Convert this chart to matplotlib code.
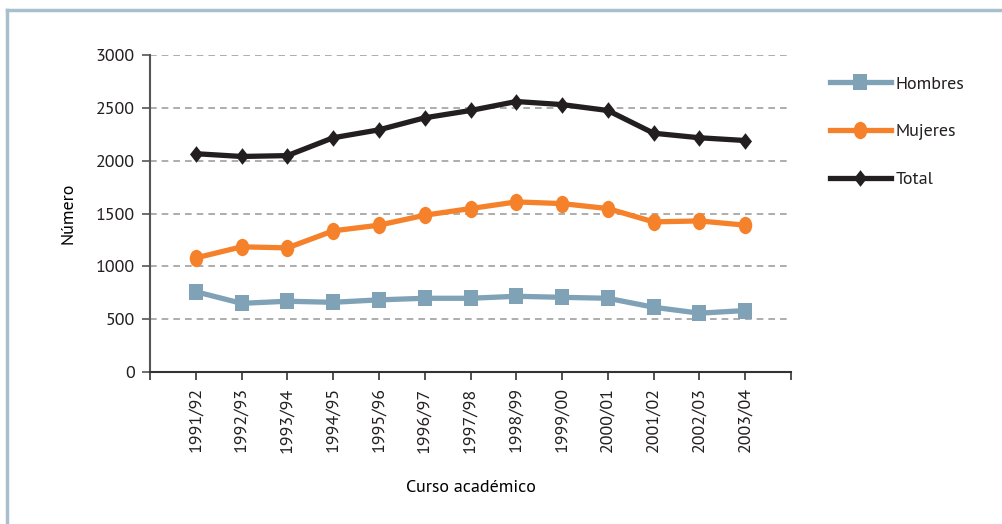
import matplotlib
matplotlib.use('Agg')
import matplotlib.pyplot as plt
from matplotlib.lines import Line2D
from matplotlib.path import Path

cursos = ['1991/92', '1992/93', '1993/94', '1994/95', '1995/96', '1996/97', '1997/98',
          '1998/99', '1999/00', '2000/01', '2001/02', '2002/03', '2003/04']
hombres = [760, 650, 670, 660, 683, 698, 698, 717, 707, 698, 613, 557, 582]
mujeres = [1080, 1185, 1175, 1336, 1390, 1484, 1547, 1610, 1594, 1547, 1421, 1430, 1390]
total = [2066, 2040, 2048, 2217, 2292, 2406, 2475, 2560, 2531, 2475, 2260, 2217, 2191]

plt.rcParams['font.family'] = ['PT Sans', 'DejaVu Sans']
plt.rcParams['text.color'] = '#231f20'
plt.rcParams['xtick.labelcolor'] = '#231f20'
plt.rcParams['ytick.labelcolor'] = '#231f20'

# marcadores algo alargados en vertical, como en el original
cuadrado = Path([(-0.85, -1), (0.85, -1), (0.85, 1), (-0.85, 1), (-0.85, -1)],
                [Path.MOVETO, Path.LINETO, Path.LINETO, Path.LINETO, Path.CLOSEPOLY])
circulo = Path(Path.unit_circle().vertices * [0.78, 1.0], Path.unit_circle().codes)
rombo = Path([(0, 1), (0.78, 0), (0, -1), (-0.78, 0), (0, 1)],
             [Path.MOVETO, Path.LINETO, Path.LINETO, Path.LINETO, Path.CLOSEPOLY])

fig = plt.figure(figsize=(10.03, 5.24), dpi=100)
ax = fig.add_axes([0.1496, 0.290, 0.6390, 0.605])

x = list(range(len(cursos)))
ax.plot(x, hombres, color='#7fa2b7', lw=3.8, marker=cuadrado, ms=11.5, mew=0, label='Hombres')
ax.plot(x, mujeres, color='#f5822a', lw=3.8, marker=circulo, ms=12.5, mew=0, label='Mujeres')
ax.plot(x, total, color='#231f20', lw=3.8, marker=rombo, ms=12, mew=0, label='Total')

ax.set_xlim(-1, 13)
ax.set_ylim(0, 3000)
ax.set_yticks([0, 500, 1000, 1500, 2000, 2500, 3000])
ax.set_xticks(list(range(-1, 14)))
ax.set_xticklabels([''] + cursos + [''], rotation=90, fontsize=13)
ax.tick_params(axis='y', labelsize=13, length=6, width=1.2, color='#555555', pad=5)
ax.tick_params(axis='x', length=6, width=1.2, color='#333333', pad=5)
ax.yaxis.grid(True, linestyle=(0, (4, 3)), color='#a0a0a0', lw=1.2)
ax.set_axisbelow(True)
for s in ['top', 'right']:
    ax.spines[s].set_visible(False)
ax.spines['left'].set_color('#555555')
ax.spines['left'].set_linewidth(1.5)
ax.spines['bottom'].set_color('#333333')
ax.spines['bottom'].set_linewidth(1.5)

ax.set_ylabel('Número', fontsize=13, labelpad=14)
ax.set_xlabel('Curso académico', fontsize=13, labelpad=20)

ax.legend(loc='upper left', bbox_to_anchor=(1.035, 0.985), frameon=False, fontsize=13,
          handlelength=3.4, labelspacing=1.72, handletextpad=0.25)

# marco de la figura
fig.add_artist(Line2D([0.007, 1.0], [0.981, 0.981], color='#a8c0cd', lw=2.5))
fig.add_artist(Line2D([0.007, 0.007], [0.0, 0.981], color='#a8c0cd', lw=2.5))

fig.savefig('out.png', dpi=100)
